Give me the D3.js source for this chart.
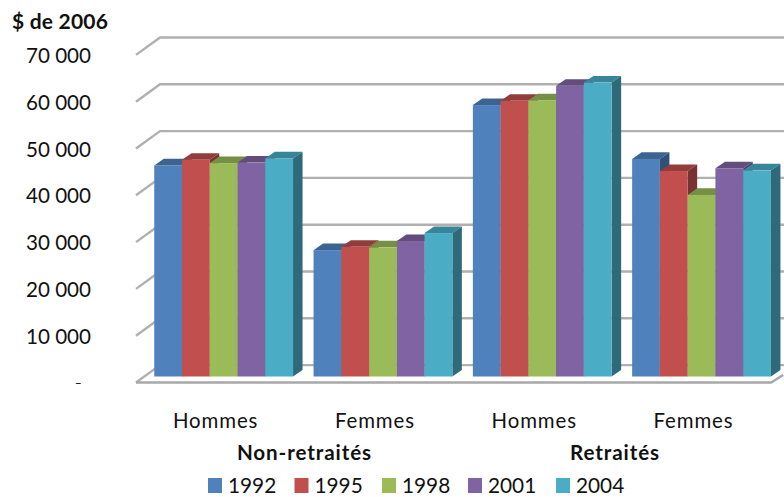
<!DOCTYPE html>
<html>
<head>
<meta charset="utf-8">
<script src="https://cdn.jsdelivr.net/npm/d3@7"></script>
<style>
  html, body { margin: 0; padding: 0; background: #fff; }
  text { font-family: Lato, sans-serif; fill: #111; }
</style>
</head>
<body>
<svg id="chart" width="784" height="497"></svg>
<script>
const groups = ["Non-retraités", "Retraités"];
const categories = ["Hommes", "Femmes", "Hommes ", "Femmes "];
const years = ["1992", "1995", "1998", "2001", "2004"];
const colors = ["#4f81bd", "#c0504d", "#9bbb59", "#8064a2", "#4bacc6"];
const yTicks = [0, 10000, 20000, 30000, 40000, 50000, 60000, 70000];

const values1992 = [45100, 27000, 58000, 46500];
const values1995 = [46300, 27700, 58900, 43900];
const values1998 = [45600, 27600, 59000, 38800];
const values2001 = [45700, 28950, 62100, 44500];
const values2004 = [46600, 30650, 62800, 44050];
const series = [values1992, values1995, values1998, values2001, values2004];

const svg = d3.select("#chart");

// bars stand in the middle of the floor, walls sit behind them
const depth = {dx: 9.5, dy: -6.6};
const wall = {frontDx: -8, frontDy: 6, backDx: 16, backDy: -11.4};

const x = d3.scaleBand().domain(categories).range([144, 781.2]);
const xBar = d3.scaleBand().domain(years).range([0, 138.8]);
const y = d3.scaleLinear().domain([0, 70000]).range([376.5, 48.9]);

const barOffset = (x.bandwidth() - xBar.range()[1]) / 2;
const plotLeft = x.range()[0] + wall.frontDx;
const plotRight = x.range()[1] + wall.frontDx;

// soft edges, the reference is a scaled up bitmap
const defs = svg.append("defs");
defs.append("filter").attr("id", "soft")
  .append("feGaussianBlur").attr("stdDeviation", 0.45);
svg.append("clipPath").attr("id", "page").append("rect")
  .attr("width", 784).attr("height", 497);

const plot = svg.append("g").attr("clip-path", "url(#page)").append("g").attr("filter", "url(#soft)");

function drawGrid() {
  const line = d3.line();
  plot.selectAll("path.grid")
    .data(yTicks)
    .enter().append("path")
    .attr("class", "grid")
    .attr("fill", "none")
    .attr("stroke", "#b0b0b0")
    .attr("stroke-width", 2.4)
    .attr("d", d => line([
      [plotLeft, y(d) + wall.frontDy],
      [x.range()[0] + wall.backDx, y(d) + wall.backDy],
      [x.range()[1] + wall.backDx, y(d) + wall.backDy]
    ]));
  // floor front edge
  plot.append("path")
    .attr("fill", "none")
    .attr("stroke", "#a8a8a8")
    .attr("stroke-width", 2.6)
    .attr("d", line([
      [plotLeft, y(0) + wall.frontDy],
      [plotRight - 2, y(0) + wall.frontDy],
      [plotRight + 10, y(0) - 1.5]
    ]));
}

function drawBar(g, cat, yearIdx, value) {
  const left = x(cat) + barOffset + xBar(years[yearIdx]);
  const right = left + xBar.bandwidth();
  const top = y(value);
  const base = y(0);
  const c = colors[yearIdx];
  const poly = pts => pts.map(p => p.join(",")).join(" ");

  g.append("polygon")
    .attr("fill", d3.rgb(c).darker(0.75))
    .attr("points", poly([[left, top], [left + depth.dx, top + depth.dy],
      [right + depth.dx, top + depth.dy], [right, top]]));
  g.append("polygon")
    .attr("fill", d3.rgb(c).darker(1.35))
    .attr("points", poly([[right, top], [right + depth.dx, top + depth.dy],
      [right + depth.dx, base + depth.dy], [right, base]]));
  g.append("rect")
    .attr("x", left)
    .attr("y", top)
    .attr("width", xBar.bandwidth())
    .attr("height", base - top)
    .attr("fill", c);
}

function drawBars() {
  categories.forEach((cat, i) => {
    const g = plot.append("g");
    series.forEach((vals, j) => drawBar(g, cat, j, vals[i]));
  });
}

function drawAxes() {
  const fmt = d => d3.format(",")(d).replace(",", " ");
  svg.append("g").selectAll("text")
    .data(yTicks)
    .enter().append("text")
    .attr("x", d => d === 0 ? 82 : 91)
    .attr("y", d => d === 0 ? 390 : y(d) + wall.frontDy + 8)
    .attr("text-anchor", "end")
    .attr("font-size", 20.6)
    .attr("font-weight", d => d === 0 ? 300 : 400)
    .text(d => d === 0 ? "-" : fmt(d));

  svg.append("g").selectAll("text")
    .data(categories)
    .enter().append("text")
    .attr("x", d => x(d) + x.bandwidth() / 2 + wall.frontDx)
    .attr("y", 428)
    .attr("text-anchor", "middle")
    .attr("font-size", 20.4)
    .attr("letter-spacing", 0.9)
    .text(d => d.trim());

  svg.append("g").selectAll("text")
    .data(groups)
    .enter().append("text")
    .attr("x", (d, i) => [304.5, 615][i])
    .attr("y", 460)
    .attr("text-anchor", "middle")
    .attr("font-size", 20.6)
    .attr("letter-spacing", 0.9)
    .attr("font-weight", 700)
    .text(d => d);

  svg.append("text")
    .attr("x", 12)
    .attr("y", 29)
    .attr("font-size", 21)
    .attr("letter-spacing", 0.2)
    .attr("font-weight", 700)
    .text("$ de 2006");
}

function drawLegend() {
  const legendX = d3.scaleOrdinal().domain(years).range([208, 294.5, 382, 468, 556]);
  const item = svg.append("g").selectAll("g")
    .data(years)
    .enter().append("g")
    .attr("transform", d => `translate(${legendX(d)},478)`);
  item.append("rect")
    .attr("width", 14)
    .attr("height", 15)
    .attr("fill", (d, i) => colors[i]);
  item.append("text")
    .attr("x", 20)
    .attr("y", 14.5)
    .attr("font-size", 20.8)
    .text(d => d);
}

drawGrid();
drawBars();
drawAxes();
drawLegend();
</script>
</body>
</html>
